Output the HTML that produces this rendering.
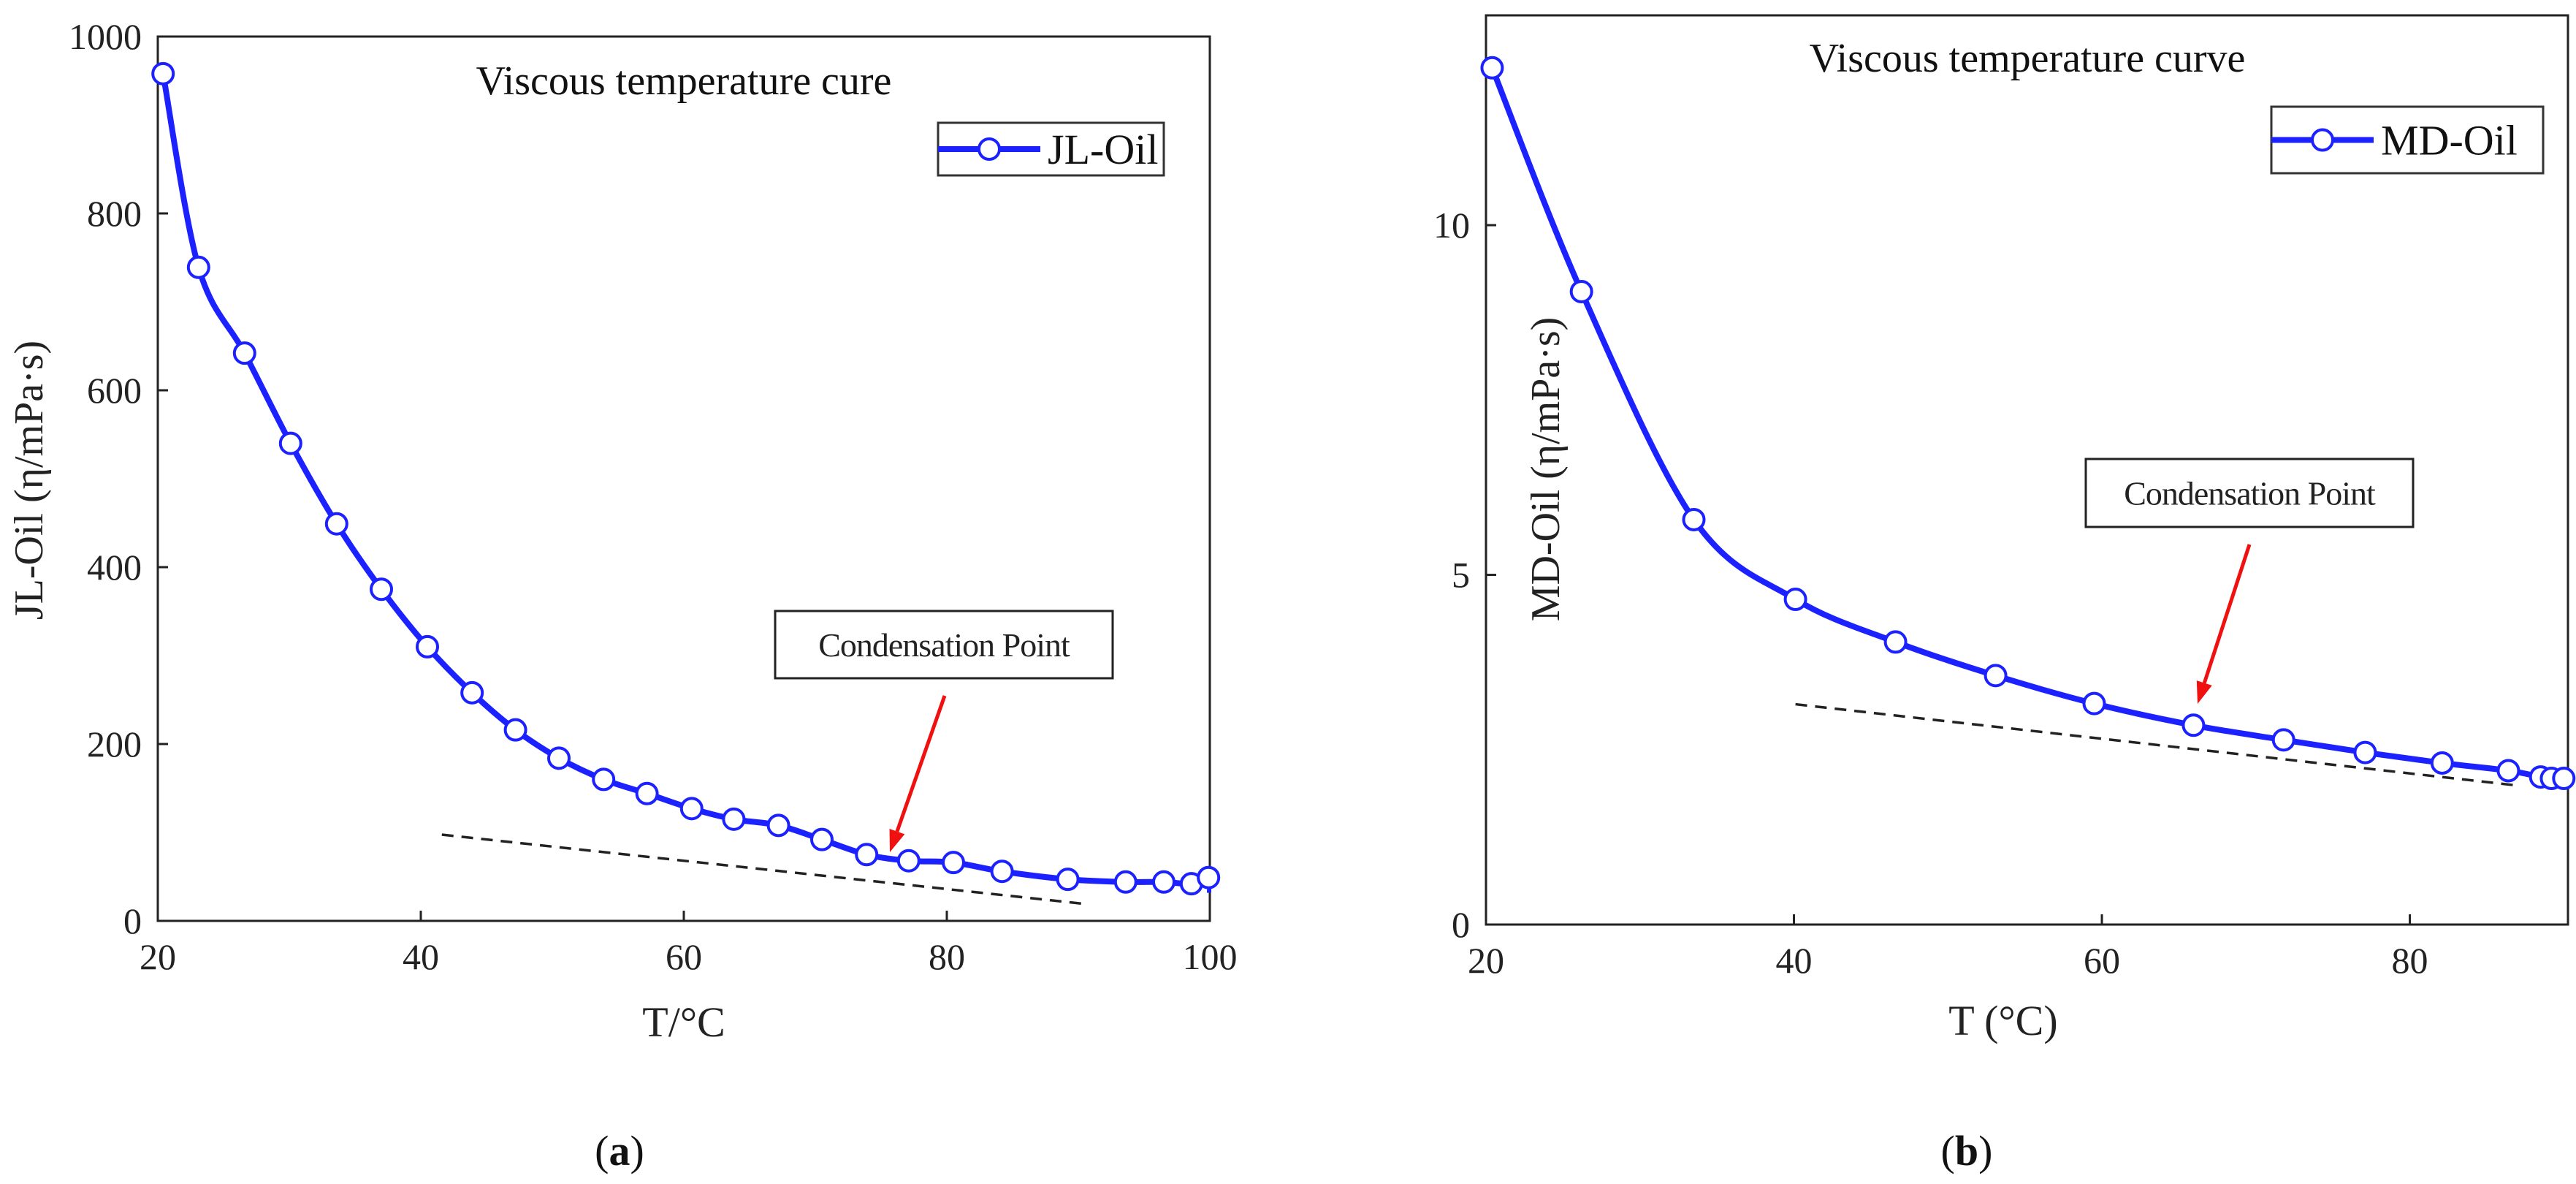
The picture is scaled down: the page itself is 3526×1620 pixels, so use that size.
<!DOCTYPE html>
<html><head><meta charset="utf-8"><style>
html,body{margin:0;padding:0;background:#fff;}
svg{display:block;font-family:"Liberation Serif",serif;}
</style></head><body>
<svg id="s" width="3526" height="1620" viewBox="0 0 3526 1620" xmlns="http://www.w3.org/2000/svg"></svg>
<script>
const aT=[20.4,23.1,26.6,30.1,33.6,37.0,40.5,43.9,47.2,50.5,53.9,57.2,60.6,63.8,67.2,70.5,73.9,77.1,80.5,84.2,89.2,93.6,96.5,98.6,99.9];
const aV=[958,739,642,540,449,375,310,258,216,184,160,144,127,115,108,92,75,68,66,56,47,44,44,42,49];
const aXTicks=[20,40,60,80,100];
const aYTicks=[0,200,400,600,800,1000];
const aDashT=[41.6,90.6];
const aDashV=[97.5,19];
const bT=[20.4,26.2,33.5,40.1,46.6,53.1,59.5,65.95,71.8,77.1,82.1,86.4,88.5,89.2,90.0];
const bV=[12.25,9.05,5.79,4.65,4.04,3.56,3.16,2.85,2.64,2.46,2.31,2.20,2.11,2.09,2.09];
const bXTicks=[20,40,60,80];
const bYTicks=[0,5,10];
const bDashT=[40.1,86.9];
const bDashV=[3.15,1.99];

const NS="http://www.w3.org/2000/svg";
const svg=document.getElementById('s');
function el(tag,attrs,parent,text){const e=document.createElementNS(NS,tag);for(const k in attrs)e.setAttribute(k,attrs[k]);if(text!==undefined)e.textContent=text;(parent||svg).appendChild(e);return e;}
const BLUE="#1c22ff";
function smooth(pts){let d="M"+pts[0][0]+","+pts[0][1];for(let i=0;i<pts.length-1;i++){const p0=pts[Math.max(0,i-1)],p1=pts[i],p2=pts[i+1],p3=pts[Math.min(pts.length-1,i+2)];const c1=[p1[0]+(p2[0]-p0[0])/6,p1[1]+(p2[1]-p0[1])/6],c2=[p2[0]-(p3[0]-p1[0])/6,p2[1]-(p3[1]-p1[1])/6];d+=" C"+c1[0]+","+c1[1]+" "+c2[0]+","+c2[1]+" "+p2[0]+","+p2[1];}return d;}

function chart(cfg){
  const g=el('g',{});
  
  
  const X=v=>cfg.L+(v-cfg.x0)/(cfg.x1-cfg.x0)*(cfg.R-cfg.L);
  const Y=v=>cfg.B-(v-cfg.y0)/(cfg.y1-cfg.y0)*(cfg.B-cfg.T);
  const frame=el('rect',{x:cfg.L,y:cfg.T,width:cfg.R-cfg.L,height:cfg.B-cfg.T,fill:'none',stroke:'#222','stroke-width':3},g);
  
  
  cfg.xt.forEach(v=>{
    const t=el('line',{x1:X(v),x2:X(v),y1:cfg.B,y2:cfg.B-14,stroke:'#222','stroke-width':3},g);
    
    
    const l=el('text',{x:X(v),y:cfg.B+66,'font-size':50,'text-anchor':'middle',fill:'#222'},g,String(v));
    
    
  });
  cfg.yt.forEach(v=>{
    const t=el('line',{x1:cfg.L,x2:cfg.L+14,y1:Y(v),y2:Y(v),stroke:'#222','stroke-width':3},g);
    
    
    const l=el('text',{x:cfg.L-22,y:Y(v)+17,'font-size':50,'text-anchor':'end',fill:'#222'},g,String(v));
    
    
  });
  const dash=el('line',{x1:X(cfg.dt[0]),y1:Y(cfg.dv[0]),x2:X(cfg.dt[1]),y2:Y(cfg.dv[1]),stroke:'#222','stroke-width':3.5,'stroke-dasharray':'16 11'},g);
  
  
  const pts=cfg.t.map((t,i)=>[X(t),Y(cfg.v[i])]);
  if(cfg.tail) pts.push([X(cfg.tail[0]),Y(cfg.tail[1])]);
  const clip=el('clipPath',{id:'c'+cfg.name},g);
  el('rect',{x:cfg.L,y:cfg.T-20,width:cfg.R-cfg.L+2,height:cfg.B-cfg.T+40},clip);
  const line=el('path',{d:smooth(pts),fill:'none',stroke:BLUE,'stroke-width':8,'clip-path':'url(#c'+cfg.name+')'},g);
  
  
  cfg.t.forEach((t,i)=>{
    const c=el('circle',{cx:X(t),cy:Y(cfg.v[i]),r:14,fill:'#fff',stroke:BLUE,'stroke-width':4},g);
    
    
  });
  const title=el('text',{x:cfg.titleX,y:cfg.titleY,'font-size':56,'text-anchor':'middle',fill:'#111'},g,cfg.title);
  
  
  // legend
  const lg=el('g',{},g);
  
  
  const lb=cfg.leg;
  el('rect',{x:lb[0],y:lb[1],width:lb[2]-lb[0],height:lb[3]-lb[1],fill:'#fff',stroke:'#333','stroke-width':3},lg);
  const my=(lb[1]+lb[3])/2;
  el('line',{x1:lb[0],x2:lb[0]+140,y1:my,y2:my,stroke:BLUE,'stroke-width':8},lg);
  el('circle',{cx:lb[0]+70,cy:my,r:14,fill:'#fff',stroke:BLUE,'stroke-width':4},lg);
  const lt=el('text',{x:lb[0]+150,y:my+20,'font-size':58,fill:'#111'},lg,cfg.legText);
  
  
  // annotation
  const cb=cfg.cond;
  const ab=el('g',{},g);
  
  
  el('rect',{x:cb[0],y:cb[1],width:cb[2]-cb[0],height:cb[3]-cb[1],fill:'#fff',stroke:'#222','stroke-width':3},ab);
  el('text',{x:(cb[0]+cb[2])/2,y:(cb[1]+cb[3])/2+16,'font-size':46,'text-anchor':'middle',fill:'#222','letter-spacing':'-1'},ab,'Condensation Point');
  const a=cfg.arrow;
  const ang=Math.atan2(a[3]-a[1],a[2]-a[0]);
  const hx=a[2]-30*Math.cos(ang),hy=a[3]-30*Math.sin(ang);
  el('line',{x1:a[0],y1:a[1],x2:hx,y2:hy,stroke:'#f01010','stroke-width':5},ab);
  const px=-Math.sin(ang)*11,py=Math.cos(ang)*11;
  el('polygon',{points:`${a[2]},${a[3]} ${hx+px},${hy+py} ${hx-px},${hy-py}`,fill:'#f01010'},ab);
  const xt=el('text',{x:cfg.xTitle[0],y:cfg.xTitle[1],'font-size':58,'text-anchor':'middle',fill:'#222'},g,cfg.xLabel);
  
  
  const yt=el('text',{x:0,y:0,'font-size':56,'text-anchor':'middle',fill:'#222',transform:`translate(${cfg.yTitle[0]},${cfg.yTitle[1]}) rotate(-90)`},g,cfg.yLabel);
  
  
  const pl=el('text',{x:cfg.panel[0],y:cfg.panel[1],'font-size':58,'text-anchor':'middle',fill:'#111'},g);
  
  
  el('tspan',{},pl,'(');el('tspan',{'font-weight':'bold'},pl,cfg.panelText);el('tspan',{},pl,')');
}
chart({name:'chart-a',L:216,R:1656,T:50,B:1260,x0:20,x1:100,y0:0,y1:1000,xt:aXTicks,yt:aYTicks,t:aT,v:aV,tail:[100,32],dt:aDashT,dv:aDashV,
  title:'Viscous temperature cure',titleX:936,titleY:129,leg:[1284,168,1593,240],legText:'JL-Oil',cond:[1061,836,1523,928],arrow:[1293,952,1218,1166],
  xTitle:[936,1418],xLabel:'T/°C',yTitle:[58,657],yLabel:'JL-Oil (η/mPa·s)',panel:[848,1594],panelText:'a'});
chart({name:'chart-b',L:2034,R:3515,T:21,B:1265,x0:20,x1:90.27,y0:0,y1:13.0,xt:bXTicks,yt:bYTicks,t:bT,v:bV,dt:bDashT,dv:bDashV,
  title:'Viscous temperature curve',titleX:2775,titleY:98,leg:[3109,146,3481,237],legText:'MD-Oil',cond:[2855,628,3303,721],arrow:[3079,745,3008,963],
  xTitle:[2742,1416],xLabel:'T (°C)',yTitle:[2134,642],yLabel:'MD-Oil (η/mPa·s)',panel:[2692,1594],panelText:'b'});
</script>
</body></html>
